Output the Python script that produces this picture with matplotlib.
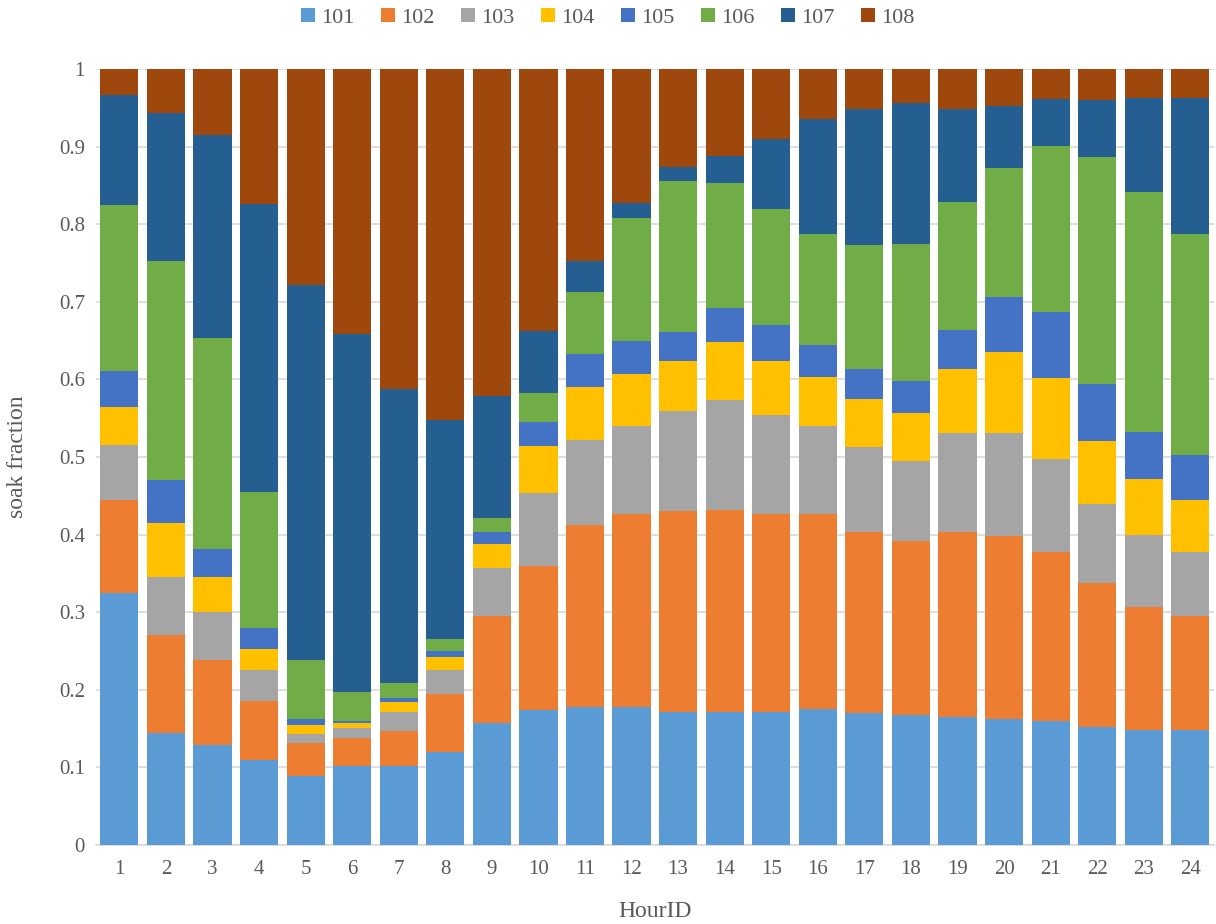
import matplotlib
matplotlib.use("Agg")
import matplotlib.pyplot as plt
import numpy as np

hours = list(range(1, 25))
series_names = ["101", "102", "103", "104", "105", "106", "107", "108"]

s101 = [0.325, 0.144, 0.129, 0.110, 0.089, 0.102, 0.102, 0.120, 0.157, 0.174, 0.178, 0.178,
        0.172, 0.172, 0.172, 0.175, 0.170, 0.167, 0.165, 0.163, 0.160, 0.152, 0.148, 0.148]
s102 = [0.120, 0.126, 0.109, 0.076, 0.042, 0.036, 0.045, 0.075, 0.138, 0.186, 0.234, 0.248,
        0.258, 0.260, 0.255, 0.252, 0.234, 0.225, 0.238, 0.235, 0.218, 0.185, 0.159, 0.147]
s103 = [0.070, 0.075, 0.062, 0.040, 0.012, 0.013, 0.024, 0.031, 0.062, 0.094, 0.110, 0.114,
        0.129, 0.142, 0.127, 0.113, 0.109, 0.103, 0.128, 0.133, 0.119, 0.103, 0.093, 0.083]
s104 = [0.050, 0.070, 0.045, 0.027, 0.011, 0.006, 0.013, 0.016, 0.031, 0.060, 0.068, 0.067,
        0.065, 0.074, 0.070, 0.063, 0.062, 0.062, 0.083, 0.104, 0.105, 0.080, 0.072, 0.067]
s105 = [0.046, 0.056, 0.037, 0.027, 0.008, 0.003, 0.005, 0.008, 0.015, 0.031, 0.043, 0.043,
        0.037, 0.044, 0.046, 0.041, 0.039, 0.041, 0.050, 0.071, 0.085, 0.074, 0.060, 0.058]
s106 = [0.214, 0.281, 0.271, 0.175, 0.076, 0.037, 0.020, 0.016, 0.018, 0.038, 0.080, 0.158,
        0.195, 0.161, 0.149, 0.144, 0.159, 0.176, 0.164, 0.167, 0.214, 0.293, 0.310, 0.284]
s107 = [0.141, 0.191, 0.262, 0.371, 0.484, 0.461, 0.379, 0.282, 0.157, 0.079, 0.039, 0.019,
        0.018, 0.035, 0.091, 0.147, 0.175, 0.182, 0.120, 0.079, 0.061, 0.073, 0.121, 0.176]
s108 = [0.034, 0.057, 0.085, 0.174, 0.278, 0.342, 0.412, 0.452, 0.422, 0.338, 0.248, 0.173,
        0.126, 0.112, 0.090, 0.065, 0.052, 0.044, 0.052, 0.048, 0.038, 0.040, 0.037, 0.037]

colors = ["#5B9BD5", "#ED7D31", "#A5A5A5", "#FFC000", "#4472C4", "#70AD47", "#255E91", "#9E480E"]

plt.rcParams['font.family'] = ['Liberation Serif', 'DejaVu Serif']

fig = plt.figure(figsize=(12.16, 9.24), dpi=100)
ax = fig.add_axes([0.079, 0.0855, 0.919, 0.8398])

# stack the series on top of each other
bottom = np.zeros(len(hours))
for name, vals, col in zip(series_names, [s101, s102, s103, s104, s105, s106, s107, s108], colors):
    ax.bar(hours, vals, width=0.82, bottom=bottom, color=col, label=name, linewidth=0, zorder=3)
    bottom += np.array(vals)

ax.set_xlim(0.5, 24.5)
ax.set_ylim(0, 1)
ax.set_xticks(hours)
ax.set_yticks(np.arange(0, 1.01, 0.1))
ax.set_yticklabels(["0"] + [f"{v:.1f}" for v in np.arange(0.1, 0.95, 0.1)] + ["1"])
ax.grid(axis='y', color='#D9D9D9', linewidth=1.2, zorder=0)
ax.set_axisbelow(True)

for side in ['top', 'right', 'left']:
    ax.spines[side].set_visible(False)
ax.spines['bottom'].set_color('#D9D9D9')
ax.spines['bottom'].set_linewidth(1.2)
ax.tick_params(axis='both', length=0, labelsize=15, colors='#595959')
ax.tick_params(axis='x', pad=11)
ax.tick_params(axis='y', pad=8)

ax.set_xlabel('HourID', fontsize=17, color='#595959', labelpad=16)
ax.set_ylabel('soak fraction', fontsize=17, color='#595959', labelpad=22)

fig.legend(loc='upper center', bbox_to_anchor=(0.5, 1.013), ncol=8, frameon=False,
           fontsize=16, handlelength=0.6, handleheight=0.6, handletextpad=0.3,
           columnspacing=1.2, labelcolor='#595959')

fig.savefig('out.png', dpi=100)
